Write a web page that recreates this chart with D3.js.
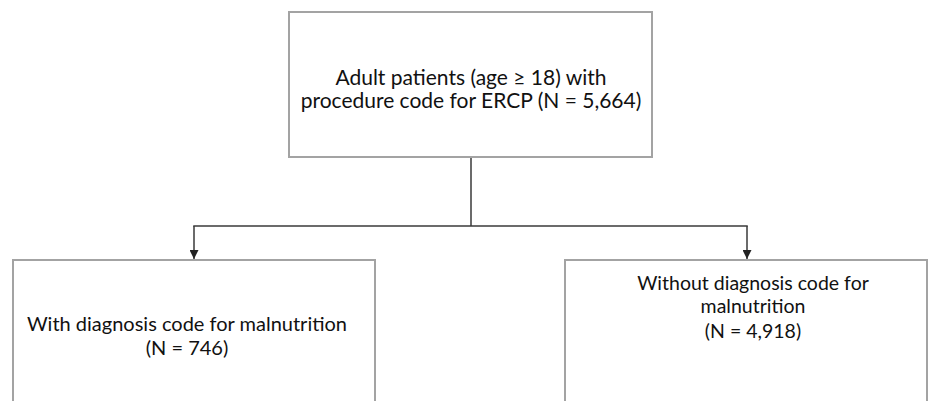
<!DOCTYPE html>
<html>
<head>
<meta charset="utf-8">
<script src="https://cdn.jsdelivr.net/npm/d3@7"></script>
<style>
  html, body { margin: 0; padding: 0; background: #ffffff; }
  svg { display: block; }
</style>
</head>
<body>
<svg id="chart" width="928" height="401"></svg>
<script>
// ---- data ----
const stageIds = ["all", "with", "without"];
const stageTexts = [
  "Adult patients (age ≥ 18) with procedure code for ERCP",
  "With diagnosis code for malnutrition",
  "Without diagnosis code for malnutrition"
];
const stageCounts = [5664, 746, 4918];
const stageParents = [null, "all", "all"];

// ---- layout (pixels) ----
const fmt = d3.format(",");
const labelLines = [
  [stageTexts[0].slice(0, 30), stageTexts[0].slice(31) + " (N = " + fmt(stageCounts[0]) + ")"],
  [stageTexts[1], "(N = " + fmt(stageCounts[1]) + ")"],
  ["Without diagnosis code for", "malnutrition", "(N = " + fmt(stageCounts[2]) + ")"]
];
const boxes = {
  all:     { x0: 289, x1: 652, y0: 12,  y1: 157, tx: 471, ty: [85, 108], fs: 21 },
  with:    { x0: 13,  x1: 375, y0: 260, y1: 420, tx: 187, ty: [331, 355], fs: 20 },
  without: { x0: 565, x1: 927, y0: 260, y1: 420, tx: 753, ty: [290, 313, 338], fs: 19.5 }
};
const arrowX = { with: 194, without: 747 };
const busY = 226;

const svg = d3.select("#chart");

const defs = svg.append("defs");
defs.append("marker")
  .attr("id", "arrow")
  .attr("viewBox", "0 0 10 10")
  .attr("refX", 10).attr("refY", 5)
  .attr("markerWidth", 9).attr("markerHeight", 9)
  .attr("markerUnits", "userSpaceOnUse")
  .attr("orient", "auto")
  .append("path")
  .attr("d", "M0,0 L10,5 L0,10 Z")
  .attr("fill", "#222");

// boxes
const nodes = stageIds.map((id, i) => ({ id, lines: labelLines[i], parent: stageParents[i], ...boxes[id] }));

svg.selectAll("rect.box")
  .data(nodes)
  .join("rect")
  .attr("class", "box")
  .attr("x", d => d.x0)
  .attr("y", d => d.y0)
  .attr("width", d => d.x1 - d.x0)
  .attr("height", d => d.y1 - d.y0)
  .attr("fill", "#ffffff")
  .attr("stroke", "#a3a3a3")
  .attr("stroke-width", 2);

// connectors
const root = nodes[0];
const rootX = 471;
svg.append("line")
  .attr("x1", rootX).attr("x2", rootX)
  .attr("y1", root.y1 + 1).attr("y2", busY)
  .attr("stroke", "#3a3a3a").attr("stroke-width", 1.5);

const children = nodes.filter(d => d.parent === "all");
svg.append("line")
  .attr("x1", d3.min(children, d => arrowX[d.id]) - 0.75)
  .attr("x2", d3.max(children, d => arrowX[d.id]) + 0.75)
  .attr("y1", busY).attr("y2", busY)
  .attr("stroke", "#3a3a3a").attr("stroke-width", 1.5);

svg.selectAll("line.drop")
  .data(children)
  .join("line")
  .attr("class", "drop")
  .attr("x1", d => arrowX[d.id]).attr("x2", d => arrowX[d.id])
  .attr("y1", busY).attr("y2", d => d.y0 - 1)
  .attr("stroke", "#3a3a3a").attr("stroke-width", 1.5)
  .attr("marker-end", "url(#arrow)");

// labels
const labels = svg.selectAll("text.label")
  .data(nodes)
  .join("text")
  .attr("class", "label")
  .attr("text-anchor", "middle")
  .attr("font-family", "Lato, 'Open Sans', sans-serif")
  .attr("font-size", d => d.fs)
  .attr("fill", "#111");

labels.selectAll("tspan")
  .data(d => d.lines.map((t, i) => ({ t, x: d.tx, y: d.ty[i] })))
  .join("tspan")
  .attr("x", d => d.x)
  .attr("y", d => d.y)
  .text(d => d.t);
</script>
</body>
</html>
